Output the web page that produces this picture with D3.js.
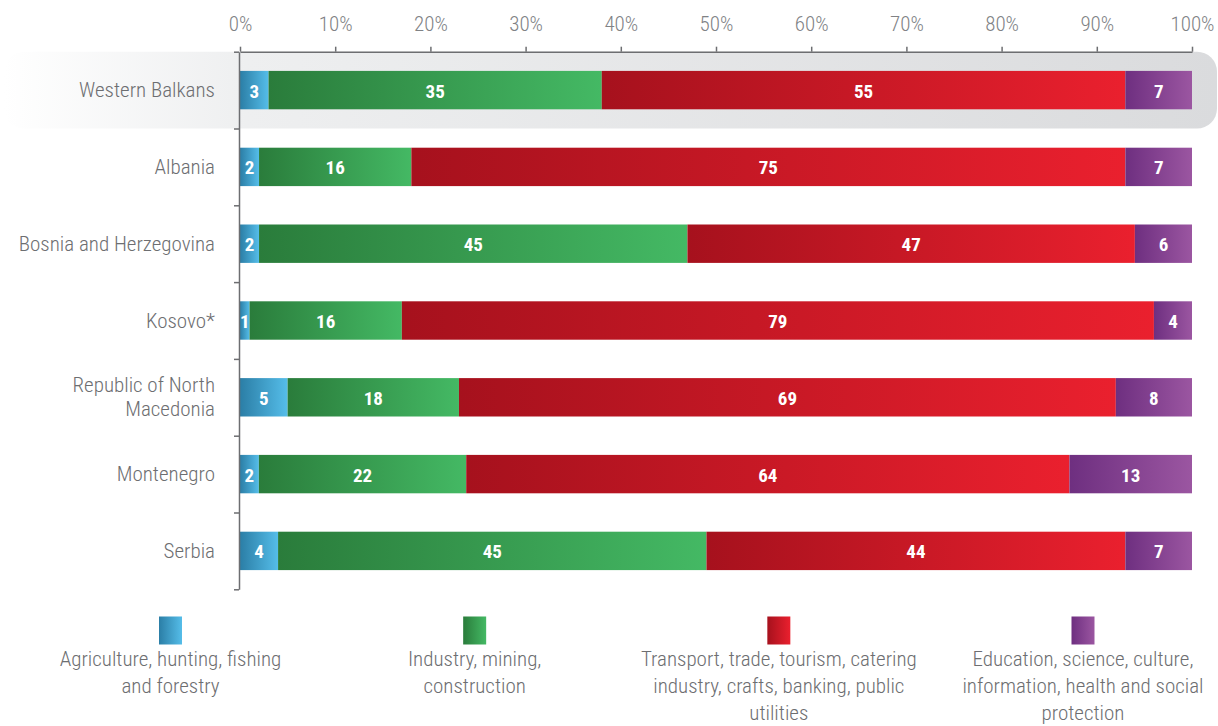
<!DOCTYPE html>
<html><head><meta charset="utf-8">
<script src="https://cdn.jsdelivr.net/npm/d3@7"></script>
<style>
body{margin:0;background:#fff;}
svg{display:block;}
text{font-family:"Roboto Condensed","Liberation Sans Narrow","Roboto",sans-serif;}
</style></head>
<body>
<svg id="chart" width="1218" height="726"></svg>
<script>
const categories = ["Western Balkans","Albania","Bosnia and Herzegovina","Kosovo*","Republic of North Macedonia","Montenegro","Serbia"];
const categoryLines = [["Western Balkans"],["Albania"],["Bosnia and Herzegovina"],["Kosovo*"],["Republic of North","Macedonia"],["Montenegro"],["Serbia"]];
const agriculture = [3,2,2,1,5,2,4];
const industry    = [35,16,45,16,18,22,45];
const services    = [55,75,47,79,69,64,44];
const education   = [7,7,6,4,8,13,7];
const seriesNames = [
  ["Agriculture, hunting, fishing","and forestry"],
  ["Industry, mining,","construction"],
  ["Transport, trade, tourism, catering","industry, crafts, banking, public","utilities"],
  ["Education, science, culture,","information, health and social","protection"]
];
const tickValues = [0,0.1,0.2,0.3,0.4,0.5,0.6,0.7,0.8,0.9,1];
const gradColors = [["#2b7ea6","#55bde9"],["#2a7c3b","#44b964"],["#a6111d","#ea202e"],["#6e2f80","#9b56a1"]];

(function(){
const svg = d3.select("#chart");
const defs = svg.append("defs");
gradColors.forEach((c,i)=>{
  const g = defs.append("linearGradient").attr("id","g"+i).attr("x1","0").attr("x2","1").attr("y1","0").attr("y2","0");
  g.append("stop").attr("offset","0").attr("stop-color",c[0]);
  g.append("stop").attr("offset","1").attr("stop-color",c[1]);
});
const hg = defs.append("linearGradient").attr("id","hl").attr("x1","0").attr("x2","1").attr("y1","0").attr("y2","0");
hg.append("stop").attr("offset","0").attr("stop-color","#ffffff");
hg.append("stop").attr("offset","0.2").attr("stop-color","#eeeff0");
hg.append("stop").attr("offset","1").attr("stop-color","#dadbdd");

const yTop = 51.7, yBottom = 589.3, xLeft = 240, xRight = 1192;
const x = d3.scaleLinear().domain([0,1]).range([xLeft,xRight]);
const y = d3.scaleBand().domain(categories).range([yTop,yBottom]).paddingInner(0.5).paddingOuter(0.25);
const yB = d3.scaleLinear().domain([0,categories.length]).range([yTop,yBottom]);

svg.append("rect").attr("x",4).attr("y",yB(0)).attr("width",1213).attr("height",yB(1)-yB(0))
  .attr("rx",20).attr("fill","url(#hl)");

const rows = categories.map((c,i)=>({cat:c,a:agriculture[i],b:industry[i],c:services[i],d:education[i]}));
const stack = d3.stack().keys(["a","b","c","d"]).offset(d3.stackOffsetExpand);
const series = stack(rows);

const gS = svg.append("g");
series.forEach((s,si)=>{
  const g = gS.append("g");
  g.selectAll("rect").data(s).enter().append("rect")
    .attr("x",d=>x(d[0])).attr("y",d=>y(d.data.cat))
    .attr("width",d=>x(d[1])-x(d[0])).attr("height",y.bandwidth())
    .attr("fill","url(#g"+si+")");
  g.selectAll("text").data(s).enter().append("text")
    .attr("x",d=>(x(d[0])+x(d[1]))/2).attr("y",d=>y(d.data.cat)+y.bandwidth()/2+1)
    .attr("text-anchor","middle").attr("dominant-baseline","central")
    .attr("fill","#fff").attr("font-weight","bold").attr("font-size",19)
    .text(d=>d.data[s.key]);
});

const axisColor = "#6d6e71";
const xAxis = svg.append("g").attr("transform",`translate(0,${yTop})`)
  .call(d3.axisTop(x).tickValues(tickValues).tickFormat(d3.format(".0%")).tickSizeInner(5).tickSizeOuter(0).tickPadding(16));
xAxis.select(".domain").attr("stroke",axisColor).attr("stroke-width",1.5);
xAxis.selectAll(".tick line").attr("stroke",axisColor).attr("stroke-width",1.5);
xAxis.selectAll(".tick text").attr("fill","#808285").attr("font-size",21).attr("font-weight",300);

const yAxis = svg.append("g").attr("transform",`translate(${xLeft-1},0)`)
  .call(d3.axisLeft(yB).tickValues(d3.range(0,categories.length+1)).tickFormat("").tickSizeInner(5).tickSizeOuter(0));
yAxis.select(".domain").attr("stroke",axisColor).attr("stroke-width",1.5);
yAxis.selectAll(".tick line").attr("stroke",axisColor).attr("stroke-width",1.5);

categoryLines.forEach((lines,i)=>{
  const cy = y(categories[i])+y.bandwidth()/2;
  const t = svg.append("text").attr("text-anchor","end").attr("fill","#6d6e71").attr("font-size",21).attr("font-weight",300);
  lines.forEach((l,j)=>{
    t.append("tspan").attr("x",215).attr("y",cy+(j-(lines.length-1)/2)*24).attr("dominant-baseline","central").text(l);
  });
});

const legendX = d3.scalePoint().domain(d3.range(4)).range([170.5,1083]);
seriesNames.forEach((lines,i)=>{
  const cx = legendX(i);
  svg.append("rect").attr("x",cx-11.5).attr("y",616.5).attr("width",23).attr("height",28).attr("fill","url(#g"+i+")");
  const t = svg.append("text").attr("text-anchor","middle").attr("fill","#6d6e71").attr("font-size",21).attr("font-weight",300);
  lines.forEach((l,j)=>{
    t.append("tspan").attr("x",cx).attr("y",659+j*27).attr("dominant-baseline","central").text(l);
  });
});
})();
</script>
</body></html>
